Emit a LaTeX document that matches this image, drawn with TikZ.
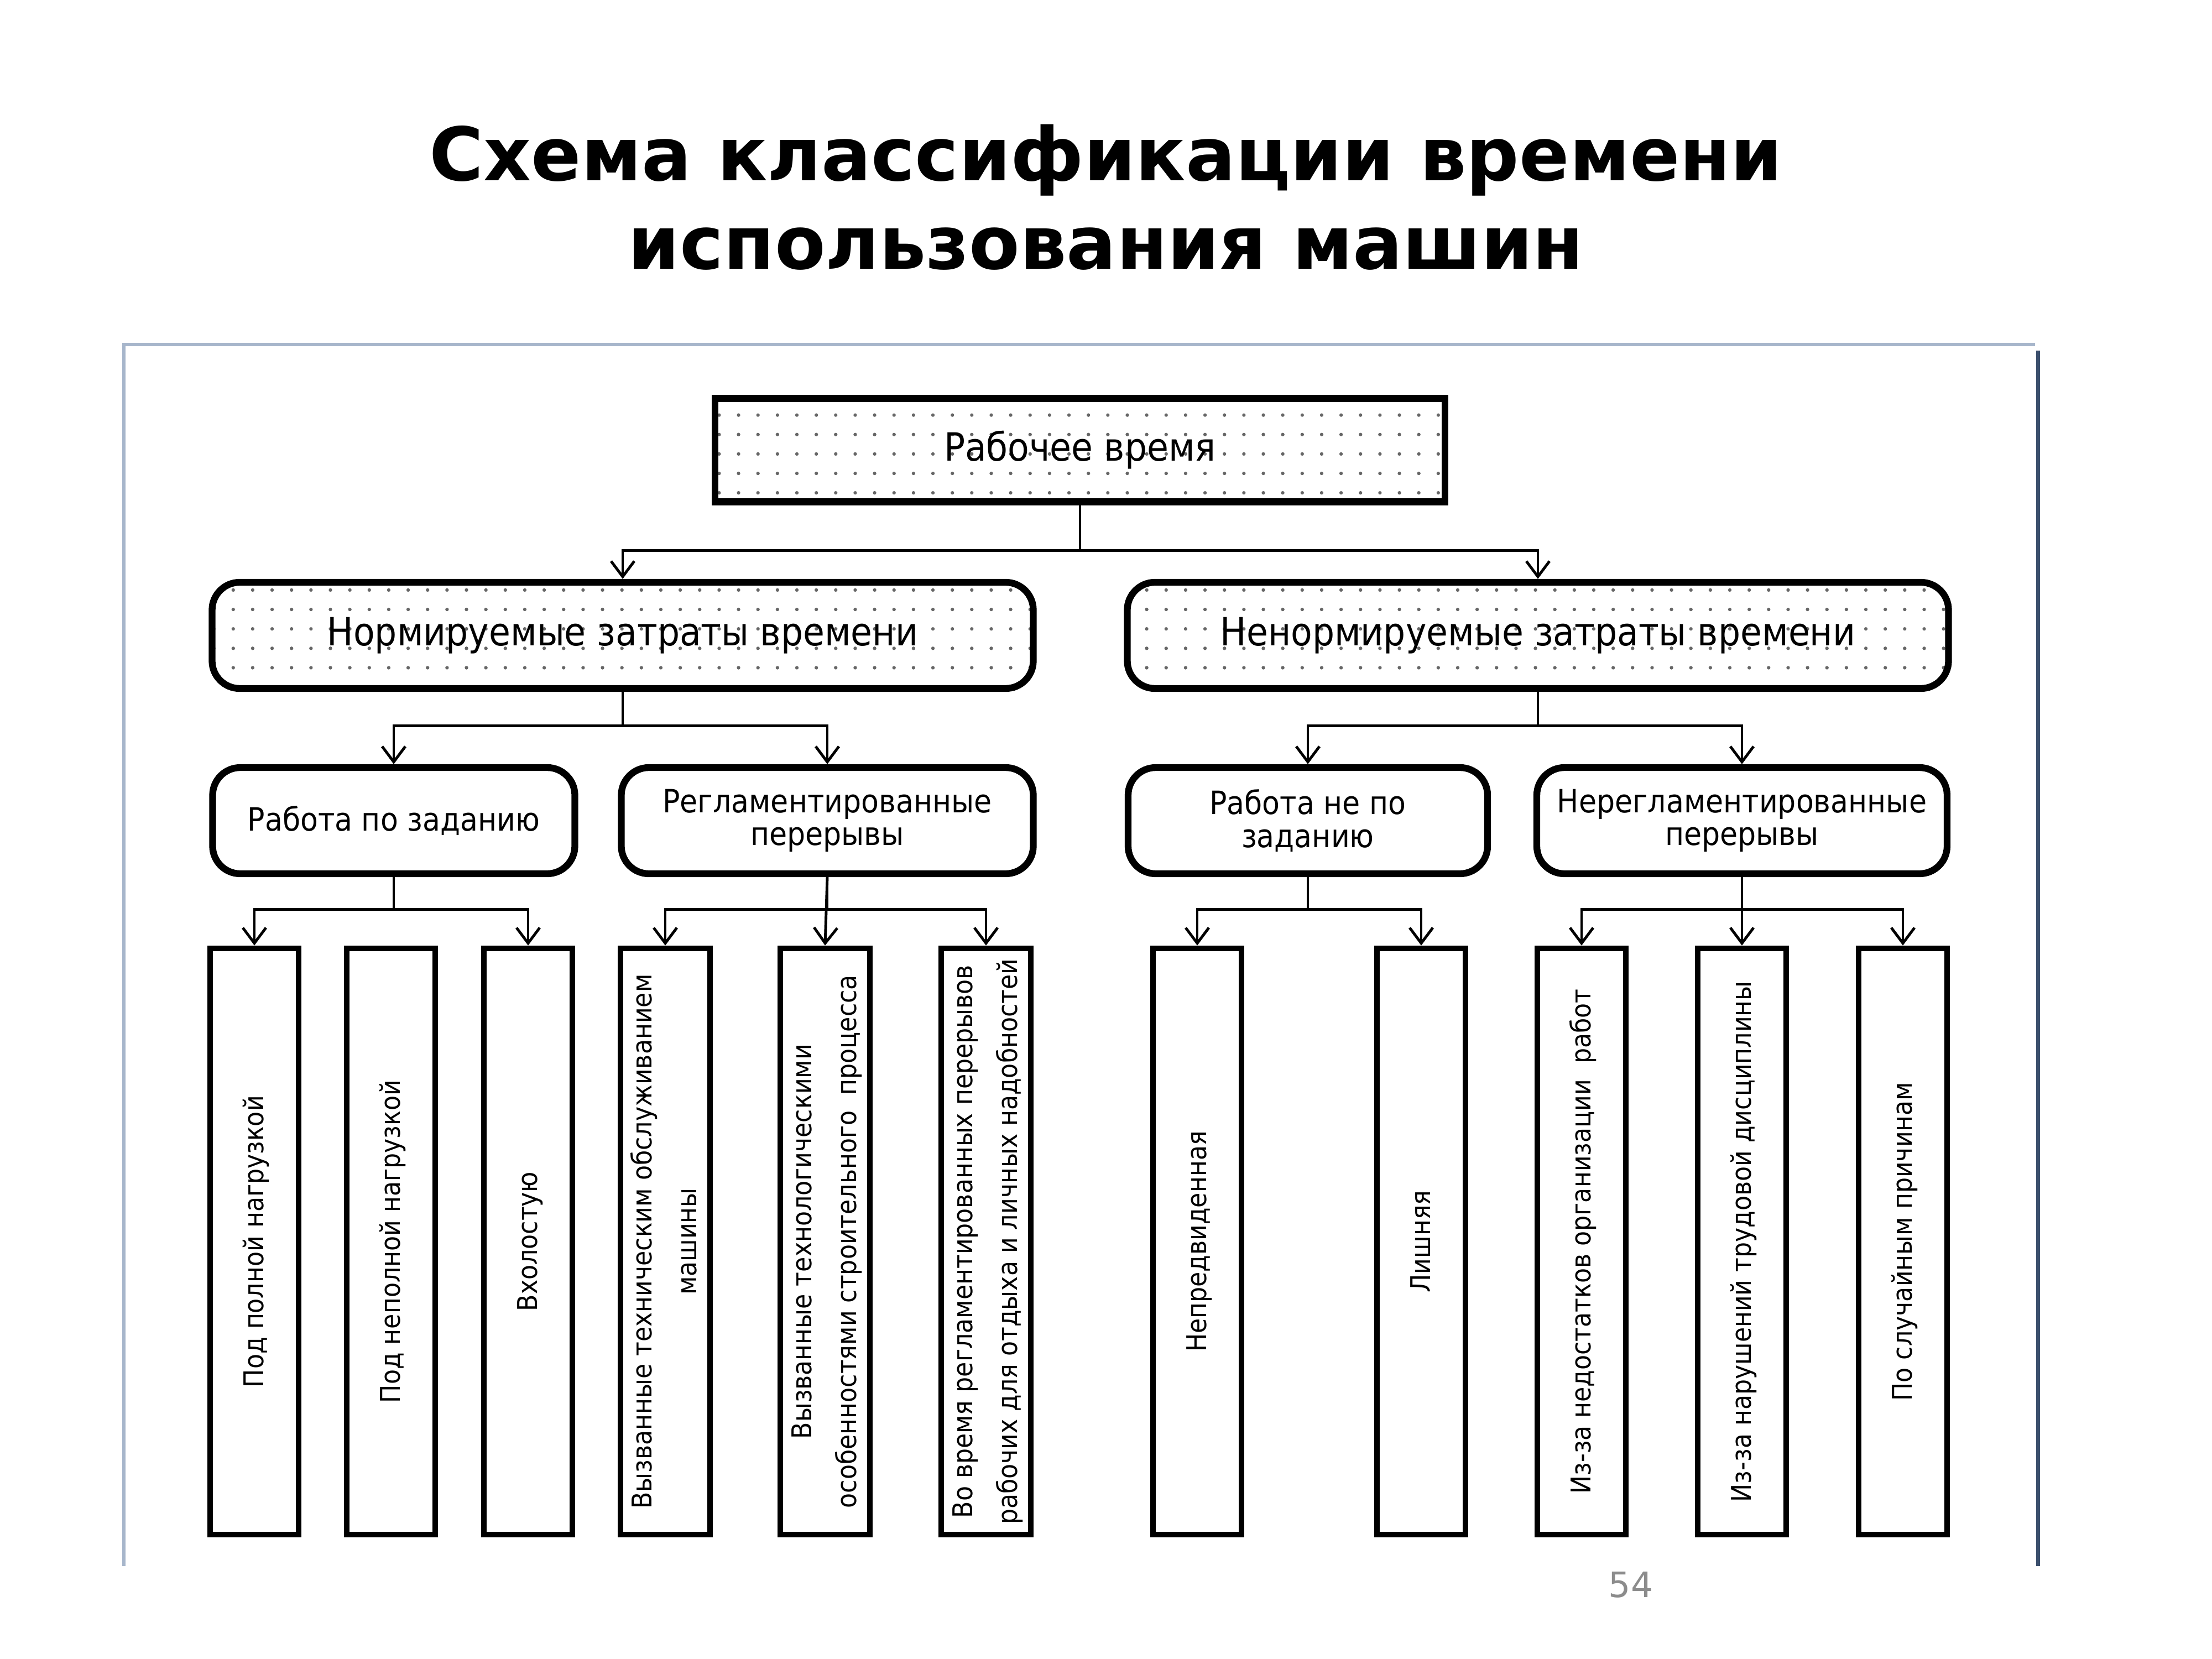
\documentclass[tikz,border=0pt]{standalone}
\usepackage{fontspec}
\usepackage{graphicx}
\setmainfont{DejaVu Sans Condensed}
\newfontfamily\titlefont{DejaVu Sans}
\usepackage{tikz}
\usetikzlibrary{shapes.geometric, arrows.meta, patterns.meta}
\definecolor{framelight}{HTML}{A7B6CB}
\definecolor{framedark}{HTML}{3B4F6D}
\tikzstyle{rootbox} = [rectangle, minimum width=13.2cm, minimum height=1.87cm, line width=3.5pt, draw=black, pattern={Dots[distance=10pt, radius=0.9pt]}, pattern color=black!60, font=\fontsize{20}{22}\selectfont]
\tikzstyle{groupbox} = [rectangle, rounded corners=0.5cm, minimum width=14.85cm, minimum height=1.92cm, line width=3.5pt, draw=black, pattern={Dots[distance=10pt, radius=0.9pt]}, pattern color=black!60, font=\fontsize{20}{22}\selectfont]
\tikzstyle{kindbox} = [rectangle, rounded corners=0.5cm, minimum height=1.92cm, line width=3.5pt, draw=black, align=center, font=\fontsize{16.5}{17}\selectfont]
\tikzstyle{leaf} = [rectangle, minimum width=1.6cm, minimum height=10.6cm, inner sep=0pt, line width=3pt, draw=black, node distance=7.61cm, font=\fontsize{14}{23}\selectfont]
\tikzstyle{arrow} = [line width=1.4pt, ->, >={Straight Barb[length=0.28cm, width=0.42cm]}]
\newcommand{\vlabel}[1]{\rotatebox{90}{\begin{tabular}{@{}c@{}}#1\end{tabular}}}

\begin{document}
\begin{tikzpicture}[node distance=3.35cm]
    \useasboundingbox (0,0) rectangle (40,-30);
    % heading and slide frame
    \node (title1) [anchor=base, font=\titlefont\bfseries\fontsize{38}{45}\selectfont] at (20,-3.27) {Схема классификации времени};
    \node (title2) [anchor=base, font=\titlefont\bfseries\fontsize{38}{45}\selectfont] at (20,-4.87) {использования машин};
    \draw [framelight, line width=1.5pt] (2.24,-28.32) -- (2.24,-6.23) -- (36.8,-6.23);
    \draw [framedark, line width=2pt] (36.85,-6.34) -- (36.85,-28.32);
    \node (page) [anchor=base, text=black!45, font=\titlefont\fontsize{18}{20}\selectfont] at (29.49,-28.88) {54};

    \node (work) [rootbox] at (19.53,-8.14) {Рабочее время};
    \node (norm) [groupbox, below of = work, xshift = -8.27cm] {Нормируемые затраты времени};
    \node (nonorm) [groupbox, below of = work, xshift = 8.28cm] {Ненормируемые затраты времени};

    \node (task) [kindbox, below of = norm, xshift = -4.14cm, minimum width=6.55cm] {Работа по заданию};
    \node (regl) [kindbox, below of = norm, xshift = 3.70cm, minimum width=7.45cm] {Регламентированные\\перерывы};
    \node (nontask) [kindbox, below of = nonorm, xshift = -4.16cm, minimum width=6.5cm] {Работа не по\\заданию};
    \node (nonregl) [kindbox, below of = nonorm, xshift = 3.69cm, minimum width=7.42cm] {Нерегламентированные\\перерывы};

    \node (full) [leaf, below of = task, xshift = -2.52cm] {\vlabel{Под полной нагрузкой}};
    \node (partial) [leaf, below of = task, xshift = -0.05cm] {\vlabel{Под неполной нагрузкой}};
    \node (idle) [leaf, below of = task, xshift = 2.43cm] {\vlabel{Вхолостую}};
    \node (service) [leaf, below of = regl, xshift = -2.93cm] {\vlabel{Вызванные техническим обслуживанием\\машины}};
    \node (techno) [leaf, below of = regl, xshift = -0.04cm] {\vlabel{Вызванные технологическими\\особенностями строительного\ \ процесса}};
    \node (rest) [leaf, below of = regl, xshift = 2.87cm] {\vlabel{Во время регламентированных перерывов\\рабочих для отдыха и личных надобностей}};
    \node (unforeseen) [leaf, below of = nontask, xshift = -2.0cm] {\vlabel{Непредвиденная}};
    \node (extra) [leaf, below of = nontask, xshift = 2.05cm] {\vlabel{Лишняя}};
    \node (organiz) [leaf, below of = nonregl, xshift = -2.90cm] {\vlabel{Из-за недостатков организации\ \ работ}};
    \node (discipline) [leaf, below of = nonregl, xshift = 0cm] {\vlabel{Из-за нарушений трудовой дисциплины}};
    \node (random) [leaf, below of = nonregl, xshift = 2.91cm] {\vlabel{По случайным причинам}};

    \draw [arrow] (work.south) -- ++(0,-0.82) -| (norm.north);
    \draw [arrow] (work.south) -- ++(0,-0.82) -| (nonorm.north);
    \draw [arrow] (norm.south) -- ++(0,-0.61) -| (task.north);
    \draw [arrow] (norm.south) -- ++(0,-0.61) -| (regl.north);
    \draw [arrow] (nonorm.south) -- ++(0,-0.61) -| (nontask.north);
    \draw [arrow] (nonorm.south) -- ++(0,-0.61) -| (nonregl.north);
    \draw [arrow] (task.south) -- ++(0,-0.58) -| (full.north);
    \draw [arrow] (task.south) -- ++(0,-0.58) -| (idle.north);
    \draw [arrow] (regl.south) -- ++(0,-0.58) -| (service.north);
    \draw [arrow] (regl.south) -- (techno.north);
    \draw [arrow] (regl.south) -- ++(0,-0.58) -| (rest.north);
    \draw [arrow] (nontask.south) -- ++(0,-0.58) -| (unforeseen.north);
    \draw [arrow] (nontask.south) -- ++(0,-0.58) -| (extra.north);
    \draw [arrow] (nonregl.south) -- ++(0,-0.58) -| (organiz.north);
    \draw [arrow] (nonregl.south) -- (discipline.north);
    \draw [arrow] (nonregl.south) -- ++(0,-0.58) -| (random.north);
\end{tikzpicture}
\end{document}
